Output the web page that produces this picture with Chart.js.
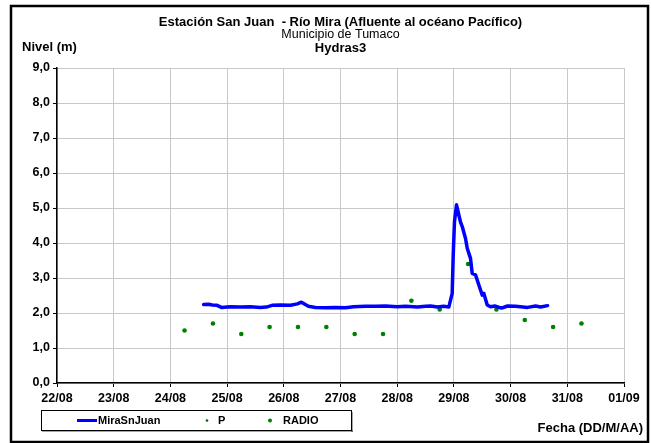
<!DOCTYPE html>
<html>
<head>
<meta charset="utf-8">
<script src="https://cdn.jsdelivr.net/npm/chart.js@4.4.0/dist/chart.umd.min.js"></script>
<style>
  body { margin: 0; background: #fff; }
  canvas { display: block; }
</style>
</head>
<body>
<canvas id="nivelChart" width="651" height="443"></canvas>
<script>
// x axis: days counted from 22/08 00:00
const dateLabels = ['22/08', '23/08', '24/08', '25/08', '26/08', '27/08', '28/08', '29/08', '30/08', '31/08', '01/09'];

// MiraSnJuan level (m)
const miraDays = [2.587, 2.67, 2.74, 2.823, 2.90, 3.058, 3.235, 3.41, 3.587, 3.693, 3.794, 3.94, 4.117, 4.24, 4.31, 4.38, 4.434, 4.558, 4.735, 4.91, 5.088, 5.229, 5.44, 5.617, 5.794, 6.0, 6.147, 6.358, 6.5, 6.588, 6.71, 6.817, 6.91, 6.97, 6.988, 7.01, 7.046, 7.116, 7.147, 7.205, 7.235, 7.293, 7.323, 7.381, 7.44, 7.5, 7.528, 7.588, 7.646, 7.72, 7.84, 7.946, 8.087, 8.3, 8.44, 8.528, 8.652];
const miraLevels = [2.24, 2.25, 2.23, 2.22, 2.16, 2.18, 2.17, 2.18, 2.16, 2.17, 2.22, 2.23, 2.22, 2.26, 2.31, 2.24, 2.19, 2.16, 2.15, 2.16, 2.15, 2.18, 2.19, 2.19, 2.20, 2.18, 2.19, 2.17, 2.19, 2.20, 2.17, 2.19, 2.17, 2.56, 3.66, 4.60, 5.09, 4.60, 4.47, 4.13, 3.85, 3.56, 3.13, 3.09, 2.80, 2.51, 2.56, 2.23, 2.18, 2.20, 2.14, 2.20, 2.19, 2.16, 2.20, 2.17, 2.21];

// P (no readings shown)
const pDays = [];
const pLevels = [];

// RADIO readings (m)
const radioDays = [2.25, 2.75, 3.25, 3.75, 4.25, 4.75, 5.25, 5.75, 6.25, 6.75, 7.25, 7.75, 8.25, 8.75, 9.25];
const radioLevels = [1.5, 1.7, 1.4, 1.6, 1.6, 1.6, 1.4, 1.4, 2.35, 2.1, 3.4, 2.1, 1.8, 1.6, 1.7];

const toPoints = (xs, ys) => xs.map((x, i) => ({ x: x, y: ys[i] }));

const FONT = '"Liberation Sans", Arial, sans-serif';

const decorPlugin = {
    id: 'decor',
    beforeDraw(chart) {
        const ctx = chart.ctx;
        ctx.save();
        ctx.fillStyle = '#fff';
        ctx.fillRect(0, 0, chart.width, chart.height);
        ctx.restore();
    },
    afterDraw(chart) {
        const ctx = chart.ctx;
        const area = chart.chartArea;
        const cx = (area.left + area.right) / 2;
        ctx.save();
        ctx.fillStyle = '#000';
        ctx.textAlign = 'center';
        ctx.textBaseline = 'middle';
        ctx.font = 'bold 13px ' + FONT;
        ctx.fillText('Estación San Juan  - Río Mira (Afluente al océano Pacífico)', cx, 22);
        ctx.font = '12.5px ' + FONT;
        ctx.fillText('Municipio de Tumaco', cx, 35);
        ctx.font = 'bold 13px ' + FONT;
        ctx.fillText('Hydras3', cx, 48);

        ctx.textAlign = 'left';
        ctx.fillText('Nivel (m)', 22, 47);
        ctx.textAlign = 'right';
        ctx.fillText('Fecha (DD/M/AA)', 643, 428);

        // legend box
        ctx.fillStyle = 'rgba(0,0,0,0.35)';
        ctx.fillRect(42, 430, 311, 2);
        ctx.fillRect(351, 412, 2, 20);
        ctx.strokeStyle = '#000';
        ctx.lineWidth = 1;
        ctx.strokeRect(41.5, 410.5, 310, 20);

        const ds = chart.data.datasets;
        const ly = 420.5;
        ctx.font = 'bold 11px ' + FONT;
        ctx.textAlign = 'left';
        ctx.fillStyle = '#000';
        // line sample
        ctx.strokeStyle = ds[0].borderColor;
        ctx.lineWidth = 3;
        ctx.beginPath();
        ctx.moveTo(77, ly);
        ctx.lineTo(97, ly);
        ctx.stroke();
        ctx.fillText(ds[0].label, 98, ly);
        // P
        ctx.fillStyle = ds[1].backgroundColor;
        ctx.beginPath();
        ctx.arc(207, ly, 1.3, 0, Math.PI * 2);
        ctx.fill();
        ctx.fillStyle = '#000';
        ctx.fillText(ds[1].label, 218, ly);
        // RADIO
        ctx.fillStyle = ds[2].backgroundColor;
        ctx.beginPath();
        ctx.arc(270, ly, 2, 0, Math.PI * 2);
        ctx.fill();
        ctx.fillStyle = '#000';
        ctx.fillText(ds[2].label, 283, ly);

        // outer frame
        ctx.strokeStyle = '#000';
        ctx.lineWidth = 2.5;
        ctx.strokeRect(11, 6, 637, 436);
        ctx.restore();
    }
};

new Chart(document.getElementById('nivelChart').getContext('2d'), {
    type: 'scatter',
    data: {
        datasets: [
            {
                type: 'line',
                label: 'MiraSnJuan',
                data: toPoints(miraDays, miraLevels),
                borderColor: '#0000ff',
                backgroundColor: '#0000ff',
                borderWidth: 3.5,
                borderJoinStyle: 'round',
                borderCapStyle: 'round',
                pointRadius: 0,
                tension: 0
            },
            {
                label: 'P',
                data: toPoints(pDays, pLevels),
                borderColor: '#006400',
                backgroundColor: '#006400',
                pointRadius: 1.5
            },
            {
                label: 'RADIO',
                data: toPoints(radioDays, radioLevels),
                borderColor: '#008000',
                backgroundColor: '#008000',
                pointRadius: 2.3,
                pointBorderWidth: 0
            }
        ]
    },
    options: {
        responsive: false,
        animation: false,
        layout: { padding: { left: 7, top: 68, right: 27, bottom: 30 } },
        plugins: {
            legend: { display: false },
            title: { display: false },
            tooltip: { enabled: false }
        },
        scales: {
            x: {
                type: 'linear',
                min: 0,
                max: 10,
                afterFit: (scale) => { scale.height = 30; },
                ticks: {
                    stepSize: 1,
                    autoSkip: false,
                    maxRotation: 0,
                    padding: 4,
                    color: '#000',
                    font: { family: FONT, size: 12.5, weight: 'bold' },
                    callback: (v) => dateLabels[v]
                },
                grid: { color: '#c8c8c8', tickColor: '#000', tickLength: 4 },
                border: { color: '#000', width: 1.5 }
            },
            y: {
                min: 0,
                max: 9,
                afterFit: (scale) => { scale.width = 50; },
                ticks: {
                    stepSize: 1,
                    padding: 3,
                    color: '#000',
                    font: { family: FONT, size: 12.5, weight: 'bold' },
                    callback: (v) => v.toFixed(1).replace('.', ',')
                },
                grid: { color: '#c8c8c8', tickColor: '#000', tickLength: 4 },
                border: { color: '#000', width: 1.5 }
            }
        }
    },
    plugins: [decorPlugin]
});
</script>
</body>
</html>
